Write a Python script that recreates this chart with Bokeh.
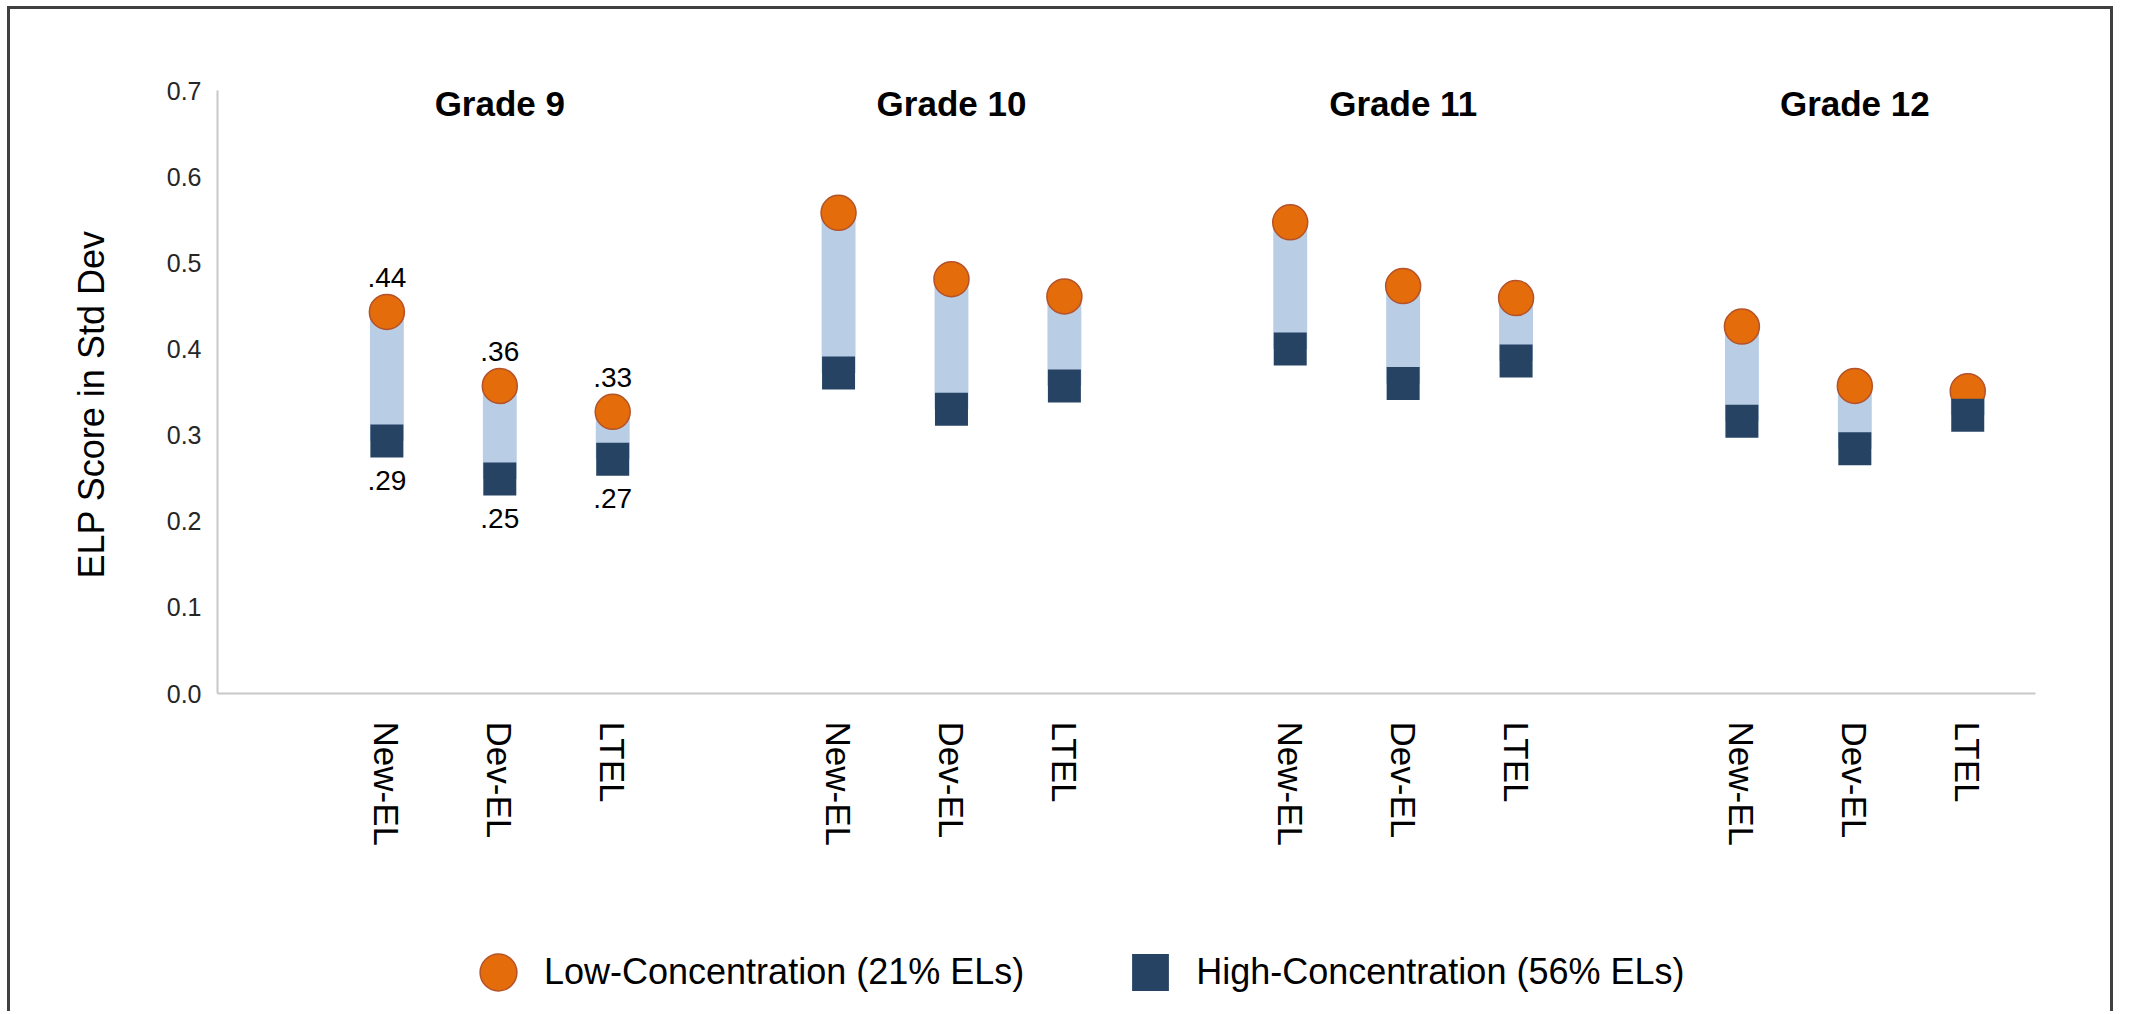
import math
from bokeh.plotting import figure
from bokeh.models import (Range1d, FixedTicker, NumeralTickFormatter, ColumnDataSource,
                          Legend, LegendItem, Label)
from bokeh.core.properties import value
from bokeh.embed import file_html
from bokeh.resources import INLINE

# ---------------- data ----------------
grades = ["Grade 9", "Grade 10", "Grade 11", "Grade 12"]
el_types = ["New-EL", "Dev-EL", "LTEL"]
# ELP score (std dev), ordered grade by grade: New-EL, Dev-EL, LTEL
low_conc = [0.443, 0.357, 0.327,
            0.558, 0.481, 0.461,
            0.547, 0.473, 0.459,
            0.426, 0.357, 0.351]
high_conc = [0.293, 0.249, 0.272,
             0.372, 0.330, 0.357,
             0.400, 0.360, 0.386,
             0.316, 0.284, 0.323]
labeled_grade = "Grade 9"
y_ticks = [0.0, 0.1, 0.2, 0.3, 0.4, 0.5, 0.6, 0.7]
low_name = "Low-Concentration (21% ELs)"
high_name = "High-Concentration (56% ELs)"
y_title = "ELP Score in Std Dev"

FONT = "Liberation Sans"

# ---------------- layout (page pixels) ----------------
CANVAS_X0, CANVAS_Y0 = 10, 9          # canvas origin on the page (margin + border)
W, H = 2106, 1005                     # canvas size
AX_LEFT, AX_RIGHT = 217, 2035         # page x of the axis span
AX_TOP, AX_BOTTOM = 90, 693           # page y of the y-axis top / bottom
X_LO, X_HI = -1.5, 14.6               # axis span in category units
Y_LO, Y_HI = y_ticks[0], y_ticks[-1]

ppx = (AX_RIGHT - AX_LEFT) / (X_HI - X_LO)
ppy = (AX_BOTTOM - AX_TOP) / (Y_HI - Y_LO)
x_start = X_LO - (AX_LEFT - CANVAS_X0) / ppx
x_end = X_HI + (CANVAS_X0 + W - AX_RIGHT) / ppx
y_start = Y_LO - (CANVAS_Y0 + H - AX_BOTTOM) / ppy
y_end = Y_HI + (AX_TOP - CANVAS_Y0) / ppy

# positions: one empty category between grade groups
xs, cats, grs = [], [], []
for gi, g in enumerate(grades):
    for ci, c in enumerate(el_types):
        xs.append(gi * (len(el_types) + 1) + ci)
        cats.append(c)
        grs.append(g)

src = ColumnDataSource(dict(x=xs, low=low_conc, high=high_conc, cat=cats, grade=grs))

p = figure(width=W, height=H,
           x_range=Range1d(x_start, x_end), y_range=Range1d(y_start, y_end),
           output_backend="svg", toolbar_location=None,
           min_border=0, min_border_left=0, min_border_right=0,
           min_border_top=0, min_border_bottom=0)
p.styles = {"margin-left": "7px", "margin-top": "6px",
            "border-left": "3px solid #404040",
            "border-top": "3px solid #404040",
            "border-right": "3px solid #404040"}
p.outline_line_color = None
p.xgrid.visible = False
p.ygrid.visible = False
p.background_fill_color = "white"
p.border_fill_color = "white"

# x axis, drawn at y = 0
p.xaxis.fixed_location = Y_LO
p.xaxis.bounds = (X_LO, X_HI)
p.xaxis.ticker = FixedTicker(ticks=xs)
p.xaxis.major_label_overrides = {x: c for x, c in zip(xs, cats)}
p.xaxis.major_label_orientation = "vertical"
p.xaxis.major_label_text_font = FONT
p.xaxis.major_label_text_font_size = "35px"
p.xaxis.major_label_text_color = "#000000"
p.xaxis.major_label_standoff = 22
p.xaxis.axis_line_color = "#C8C8C8"
p.xaxis.axis_line_width = 2
p.xaxis.major_tick_line_color = None
p.xaxis.minor_tick_line_color = None

# y axis, drawn at the left end of the category span
p.yaxis.fixed_location = X_LO
p.yaxis.bounds = (Y_LO, Y_HI)
p.yaxis.ticker = FixedTicker(ticks=y_ticks)
p.yaxis.formatter = NumeralTickFormatter(format="0.0")
p.yaxis.major_label_text_font = FONT
p.yaxis.major_label_text_font_size = "25px"
p.yaxis.major_label_text_color = "#262626"
p.yaxis.major_label_standoff = 10
p.yaxis.axis_line_color = "#C8C8C8"
p.yaxis.axis_line_width = 2
p.yaxis.major_tick_line_color = None
p.yaxis.minor_tick_line_color = None

# y-axis title
p.add_layout(Label(x=91 - CANVAS_X0, y=CANVAS_Y0 + H - 404, x_units="screen", y_units="screen",
                   text=y_title, angle=math.pi / 2, text_align="center",
                   text_baseline="middle", text_font=FONT, text_font_size="36px",
                   text_color="#000000"))

# range bars, then markers
p.vbar(x="x", width=0.30, bottom="high", top="low", source=src,
       fill_color="#B9CDE5", line_color=None)
r_low = p.scatter(x="x", y="low", source=src, marker="circle", size=35,
                  fill_color="#E46C0A", line_color="#B4522A", line_width=1.5)
r_high = p.scatter(x="x", y="high", source=src, marker="square", size=33,
                   fill_color="#264364", line_color=None)

# value labels for the first grade
lab_x = [x for x, g in zip(xs, grs) if g == labeled_grade]
lab_low = [v for v, g in zip(low_conc, grs) if g == labeled_grade]
lab_high = [v for v, g in zip(high_conc, grs) if g == labeled_grade]
fmt = lambda v: "." + "%02d" % round(v * 100)
p.text(x=lab_x, y=lab_low, text=[fmt(v) for v in lab_low], y_offset=-34,
       text_align="center", text_baseline="middle", text_font=value(FONT),
       text_font_size="28px", text_color="#000000")
p.text(x=lab_x, y=lab_high, text=[fmt(v) for v in lab_high], y_offset=39,
       text_align="center", text_baseline="middle", text_font=value(FONT),
       text_font_size="28px", text_color="#000000")

# grade titles, centred over the middle category of each group
gx = [gi * (len(el_types) + 1) + (len(el_types) - 1) / 2 for gi in range(len(grades))]
p.text(x=gx, y=[Y_HI] * len(grades), text=grades, y_offset=13,
       text_align="center", text_baseline="middle", text_font=value(FONT),
       text_font_size="35px", text_font_style="bold", text_color="#000000")

# legend at the bottom
leg_left_page, leg_top_page, leg_h = 452, 926, 92
legend = Legend(items=[LegendItem(label=low_name, renderers=[r_low]),
                       LegendItem(label=high_name, renderers=[r_high])],
                orientation="horizontal",
                location=(leg_left_page - CANVAS_X0,
                          (CANVAS_Y0 + H) - leg_top_page - leg_h),
                glyph_width=leg_h, glyph_height=leg_h, label_standoff=0, spacing=80,
                padding=0, margin=0, border_line_color=None,
                background_fill_alpha=0,
                label_text_font=FONT, label_text_font_size="36px",
                label_text_color="#000000")
p.add_layout(legend, "center")

open("out.html", "w").write(file_html(p, INLINE))
